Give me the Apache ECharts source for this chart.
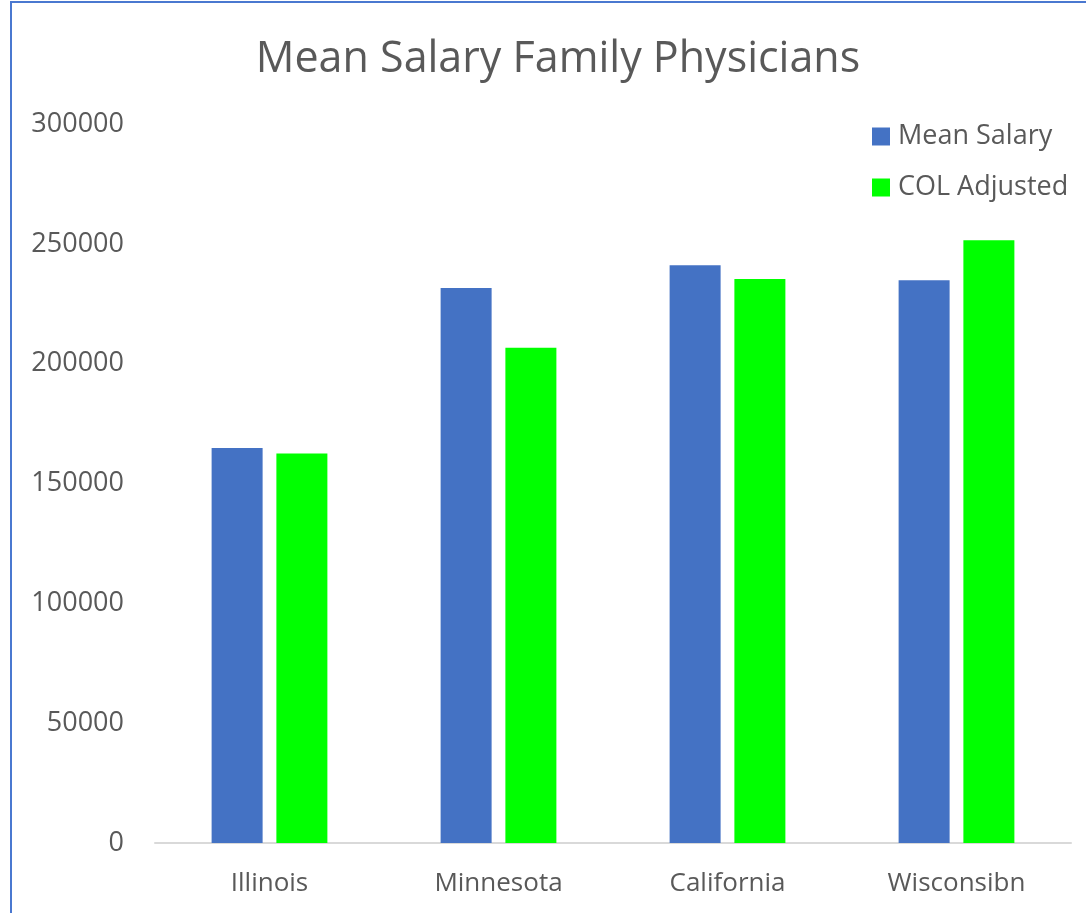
<!DOCTYPE html>
<html>
<head>
<meta charset="utf-8">
<script src="https://cdn.jsdelivr.net/npm/echarts@6/dist/echarts.min.js"></script>
<style>
html,body{margin:0;padding:0;background:#fff;}
#frame{position:absolute;left:10px;top:1px;width:1076px;height:912px;border-left:2px solid #4a78d0;border-top:2px solid #4a78d0;box-sizing:border-box;}
#chart{position:absolute;left:0;top:0;width:1086px;height:913px;}
</style>
</head>
<body>
<div id="frame"></div>
<div id="chart"></div>
<script>
const categories = ["Illinois", "Minnesota", "California", "Wisconsibn"];
const meanSalary = [164800, 231600, 241100, 234800];
const colAdjusted = [162500, 206600, 235300, 251500];
const yTicks = [0, 50000, 100000, 150000, 200000, 250000, 300000];

const chart = echarts.init(document.getElementById('chart'), null, {renderer: 'canvas'});
const font = '"Open Sans", "Noto Sans", sans-serif';
chart.setOption({
  animation: false,
  backgroundColor: 'transparent',
  title: {
    text: 'Mean Salary Family Physicians',
    left: 553, top: 33, textAlign: 'center',
    textStyle: {fontFamily: font, fontSize: 43, fontWeight: 'normal', color: '#595959'}
  },
  legend: {
    orient: 'vertical',
    left: 867, top: 118,
    itemWidth: 18, itemHeight: 18, itemGap: 24,
    icon: 'rect',
    textStyle: {fontFamily: font, fontSize: 27, color: '#595959', padding: [0,0,0,3]},
    data: ['Mean Salary', 'COL Adjusted']
  },
  grid: {left: 155, right: 15, top: 124, bottom: 70, containLabel: false},
  xAxis: {
    type: 'category',
    data: categories,
    axisLine: {lineStyle: {color: '#d9d9d9', width: 2}},
    axisTick: {show: false},
    axisLabel: {fontFamily: font, fontSize: 26, color: '#595959', margin: 28}
  },
  yAxis: {
    type: 'value',
    min: yTicks[0], max: yTicks[yTicks.length-1], interval: 50000,
    splitLine: {show: false},
    axisLine: {show: false},
    axisTick: {show: false},
    axisLabel: {fontFamily: font, fontSize: 27, color: '#595959', margin: 31,
      formatter: v => String(v)}
  },
  series: [
    {name: 'Mean Salary', type: 'bar', data: meanSalary, barWidth: 51, barGap: '27%',
     itemStyle: {color: '#4472c4'}},
    {name: 'COL Adjusted', type: 'bar', data: colAdjusted, barWidth: 51,
     itemStyle: {color: '#00ff00'}}
  ]
});
</script>
</body>
</html>
